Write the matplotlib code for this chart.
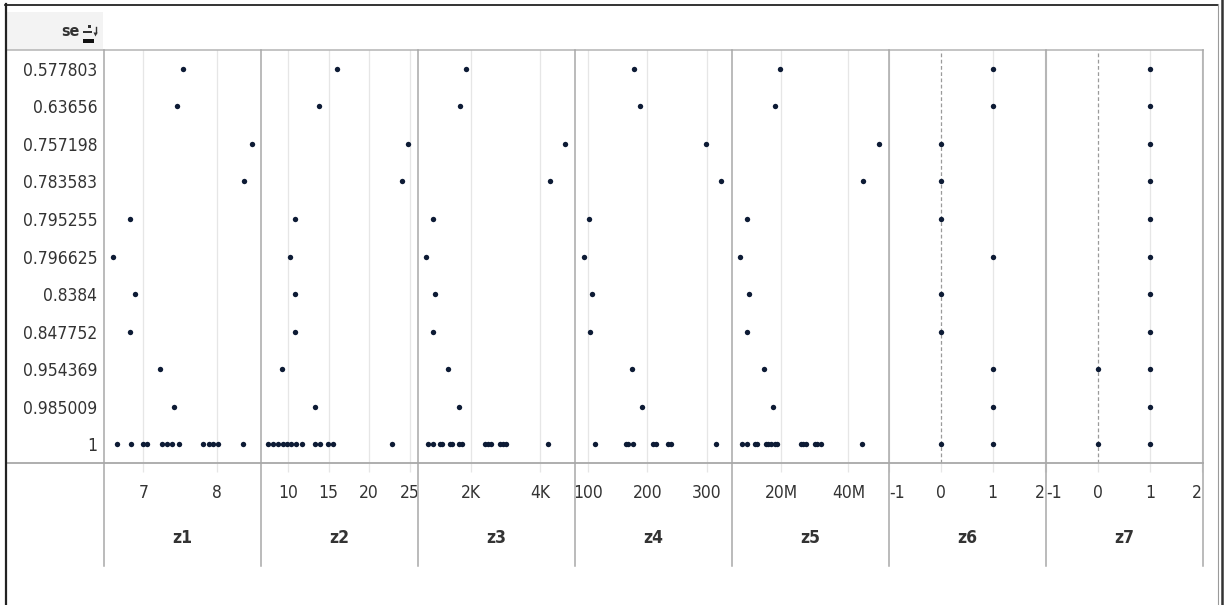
import matplotlib
matplotlib.use("Agg")
import matplotlib.pyplot as plt
import matplotlib.font_manager as fm
from matplotlib.lines import Line2D
from matplotlib.patches import Rectangle, Polygon

# narrow font like the Tableau original, if one is installed
fonts = fm.fontManager.ttflist
names = {f.name for f in fonts}
STRETCH = "normal"
FS = 13.5
if "Liberation Sans Narrow" in names:
    FAMILY = "Liberation Sans Narrow"
    FS = 14.5
elif any(f.name == "DejaVu Sans" and f.stretch in ("condensed", 600, "semi-condensed") for f in fonts):
    FAMILY = "DejaVu Sans"
    STRETCH = "condensed"
    FS = 12.5
elif "Roboto Condensed" in names:
    FAMILY = "Roboto Condensed"
    FS = 14
else:
    FAMILY = "Roboto"
    FS = 12.5
plt.rcParams["font.family"] = [FAMILY, "DejaVu Sans"]
plt.rcParams["font.stretch"] = STRETCH

# data: rows (se) and, per panel, the values plotted in each row
se_labels = ["0.577803", "0.63656", "0.757198", "0.783583", "0.795255",
             "0.796625", "0.8384", "0.847752", "0.954369", "0.985009", "1"]

z1 = [[7.54], [7.46], [8.48], [8.37], [6.82], [6.58], [6.88], [6.82], [7.22], [7.42],
      [6.64, 6.83, 7.0, 7.05, 7.25, 7.32, 7.39, 7.49, 7.82, 7.89, 7.95, 8.02, 8.36]]
z2 = [[16.06], [13.83], [24.83], [24.09], [10.83], [10.21], [10.91], [10.83], [9.26], [13.38],
      [7.53, 8.15, 8.76, 9.38, 9.88, 10.42, 11.04, 11.73, 13.30, 13.92, 14.94, 15.56, 22.86]]
z3 = [[1861], [1687], [4730], [4275], [893], [681], [942], [893], [1339], [1646],
      [748, 893, 1087, 1154, 1377, 1443, 1646, 1745, 2391, 2487, 2586, 2826, 2922, 3020, 4226]]
z4 = [[176.4], [186.5], [299], [325], [100.5], [92], [106], [102], [173.5], [190.4],
      [111.8, 162.9, 166.8, 175.2, 209, 214.7, 234.2, 240, 316]]
z5 = [[19.6e6], [18.0e6], [49.2e6], [44.5e6], [9.67e6], [7.58e6], [10.36e6], [9.67e6], [14.84e6], [17.61e6],
      [8.18e6, 9.85e6, 12.15e6, 12.84e6, 15.34e6, 16.12e6, 16.83e6, 18.12e6, 18.81e6,
       25.79e6, 26.48e6, 27.28e6, 29.97e6, 30.75e6, 31.94e6, 43.99e6]]
z6 = [[1], [1], [0], [0], [0], [1], [0], [0], [1], [1], [0, 1]]
z7 = [[1], [1], [1], [1], [1], [1], [1], [1], [0, 1], [1], [0, 1]]

panel_names = ["z1", "z2", "z3", "z4", "z5", "z6", "z7"]
panel_data = [z1, z2, z3, z4, z5, z6, z7]
panel_ticks = [[7, 8], [10, 15, 20, 25], [2000, 4000], [100, 200, 300],
               [20e6, 40e6], [-1, 0, 1, 2], [-1, 0, 1, 2]]
panel_ticklabels = [["7", "8"], ["10", "15", "20", "25"], ["2K", "4K"], ["100", "200", "300"],
                    ["20M", "40M"], ["-1", "0", "1", "2"], ["-1", "0", "1", "2"]]
panel_xlim = [(6.455, 8.60), (6.62, 26.0), (449, 5000), (76.9, 343),
              (5.28e6, 52.1e6), (-1.0, 2.03), (-0.98, 2.02)]

W, H = 1224, 605
fig = plt.figure(figsize=(W / 100, H / 100), dpi=100)
fig.patch.set_facecolor("white")


def fx(x):
    return x / W


def fy(y):
    return 1 - y / H


def line(xs, ys, color, lw, **kw):
    fig.add_artist(Line2D([fx(v) for v in xs], [fy(v) for v in ys], color=color, lw=lw,
                          transform=fig.transFigure, **kw))


TXT = "#333333"
DOT = "#0d1b35"
GRID = "#e6e6e6"
SEP = "#a8a8a8"

top, bottom = 50, 463
edges = [103.5 + 157.1 * i for i in range(8)]

# header cell
fig.add_artist(Rectangle((fx(6), fy(50)), (103 - 6) / W, (50 - 12) / H,
                         transform=fig.transFigure, color="#f3f3f3", lw=0, zorder=0))
fig.text(fx(80), fy(32), "se", ha="right", va="center", fontsize=FS - 1,
         weight="bold", color=TXT)
# sort icon
for x0, y0, w, h, c in [(87.5, 24.5, 3, 3, "#333333"), (83, 31, 9, 2.2, "#333333"),
                        (83, 39, 11, 3.5, "#111111")]:
    fig.add_artist(Rectangle((fx(x0), fy(y0 + h)), w / W, h / H,
                             transform=fig.transFigure, color=c, lw=0))
line([95.5, 95.5], [27, 33], "#333333", 1.0)
fig.add_artist(Polygon([(fx(93.5), fy(32.5)), (fx(97.5), fy(32.5)), (fx(95.5), fy(36.5))],
                       closed=True, transform=fig.transFigure, color="#333333", lw=0))

for i, (name, data) in enumerate(zip(panel_names, panel_data)):
    left, right = edges[i], edges[i + 1]
    ax = fig.add_axes([fx(left), fy(bottom), (right - left) / W, (bottom - top) / H])
    ax.set_facecolor("none")
    for s in ax.spines.values():
        s.set_visible(False)
    ax.set_xlim(*panel_xlim[i])
    ax.set_ylim(len(se_labels) - 0.5, -0.5)

    for t in panel_ticks[i]:
        if t == 0 and i >= 5:
            ax.axvline(t, color="#9a9a9a", lw=0.9, ls=(0, (3, 2)), zorder=1)
        else:
            ax.axvline(t, color=GRID, lw=0.9, zorder=0)

    for r, vals in enumerate(data):
        ax.scatter(vals, [r] * len(vals), s=15, color=DOT, linewidths=0, zorder=3)

    ax.set_xticks(panel_ticks[i])
    ax.set_xticklabels(panel_ticklabels[i])
    ax.tick_params(axis="x", length=6.5, width=0.9, color=GRID, pad=8.5,
                   labelsize=FS, labelcolor=TXT)
    if i >= 5:
        labs = ax.get_xticklabels()
        labs[0].set_ha("left")
        labs[-1].set_ha("right")

    if i == 0:
        ax.set_yticks(range(len(se_labels)))
        ax.set_yticklabels(se_labels)
        ax.tick_params(axis="y", length=0, pad=4.5, labelsize=FS, labelcolor=TXT)
    else:
        ax.set_yticks([])

    fig.text(fx((left + right) / 2), fy(538), name, ha="center", va="center",
             fontsize=FS, weight="bold", color=TXT)

# table lines
line([6, edges[-1]], [top, top], "#b4b4b4", 1.1)
line([6, edges[-1]], [bottom, bottom], SEP, 1.3)
for e in edges:
    line([e, e], [top, 566], SEP, 1.1)

# outer frame
line([5, 1218], [4.5, 4.5], "#111111", 1.2)
line([5.5, 5.5], [4, 605], "#222222", 1.6)
line([1217.5, 1217.5], [4, 605], "#9a9a9a", 0.8)
line([1221.5, 1221.5], [0, 605], "#333333", 1.8)

fig.savefig("out.png", dpi=100, facecolor="white")
